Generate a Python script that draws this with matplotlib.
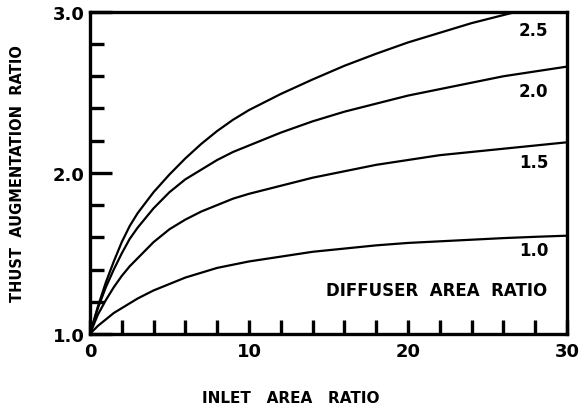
import matplotlib
matplotlib.use("Agg")
import matplotlib.pyplot as plt

# Inlet area ratio
x = [0, 0.5, 1, 1.5, 2, 2.5, 3, 4, 5, 6, 7, 8, 9, 10, 12, 14, 16, 18, 20, 22, 24, 26, 28, 30]

# Thrust augmentation ratio, one list per diffuser area ratio
ar_10 = [1.0, 1.05, 1.09, 1.13, 1.16, 1.19, 1.22, 1.27, 1.31, 1.35, 1.38, 1.41, 1.43, 1.45,
         1.48, 1.51, 1.53, 1.55, 1.565, 1.575, 1.585, 1.595, 1.603, 1.61]
ar_15 = [1.0, 1.12, 1.21, 1.29, 1.36, 1.42, 1.47, 1.57, 1.65, 1.71, 1.76, 1.80, 1.84, 1.87,
         1.92, 1.97, 2.01, 2.05, 2.08, 2.11, 2.13, 2.15, 2.17, 2.19]
ar_20 = [1.0, 1.16, 1.29, 1.40, 1.50, 1.59, 1.66, 1.78, 1.88, 1.96, 2.02, 2.08, 2.13, 2.17,
         2.25, 2.32, 2.38, 2.43, 2.48, 2.52, 2.56, 2.60, 2.63, 2.66]
ar_25 = [1.0, 1.17, 1.32, 1.45, 1.57, 1.67, 1.75, 1.88, 1.99, 2.09, 2.18, 2.26, 2.33, 2.39,
         2.49, 2.58, 2.665, 2.74, 2.81, 2.87, 2.93, 2.98, 3.03, 3.07]

curve_labels = ["1.0", "1.5", "2.0", "2.5"]
label_y = [1.52, 2.07, 2.51, 2.89]

plt.rcParams['font.family'] = 'DejaVu Sans'
plt.rcParams['font.weight'] = 'bold'

fig = plt.figure(figsize=(5.84, 4.14), dpi=100)
ax = fig.add_axes([0.154, 0.191, 0.817, 0.778])

for ys in [ar_10, ar_15, ar_20, ar_25]:
    ax.plot(x, ys, color='black', lw=1.6)

for lab, ly in zip(curve_labels, label_y):
    ax.text(27.9, ly, lab, fontsize=12, fontweight='bold', ha='center', va='center')

ax.text(21.8, 1.27, "DIFFUSER  AREA  RATIO", fontsize=12, fontweight='bold',
        ha='center', va='center')

ax.set_xlim(0, 30)
ax.set_ylim(1.0, 3.0)
ax.set_xticks([0, 10, 20, 30])
ax.set_xticklabels(["0", "10", "20", "30"])
ax.set_yticks([1.0, 2.0, 3.0])
ax.set_yticklabels(["1.0", "2.0", "3.0"])
ax.set_xticks([2, 4, 6, 8, 12, 14, 16, 18, 22, 24, 26, 28], minor=True)
ax.set_yticks([1.2, 1.4, 1.6, 1.8, 2.2, 2.4, 2.6, 2.8], minor=True)

ax.tick_params(which='both', direction='in', width=2.4, labelsize=13)
ax.tick_params(axis='x', which='both', length=10, pad=6)
ax.tick_params(axis='y', which='major', length=16, pad=4)
ax.tick_params(axis='y', which='minor', length=10)
for lbl in ax.get_xticklabels() + ax.get_yticklabels():
    lbl.set_fontweight('bold')

for s in ax.spines.values():
    s.set_linewidth(2.4)

ax.set_xlabel("INLET   AREA   RATIO", fontsize=11, fontweight='bold')
ax.xaxis.set_label_coords(0.42, -0.175)
ax.set_ylabel("THUST  AUGMENTATION  RATIO", fontsize=10.5, fontweight='bold', labelpad=20)

fig.savefig("out.png", dpi=100)
